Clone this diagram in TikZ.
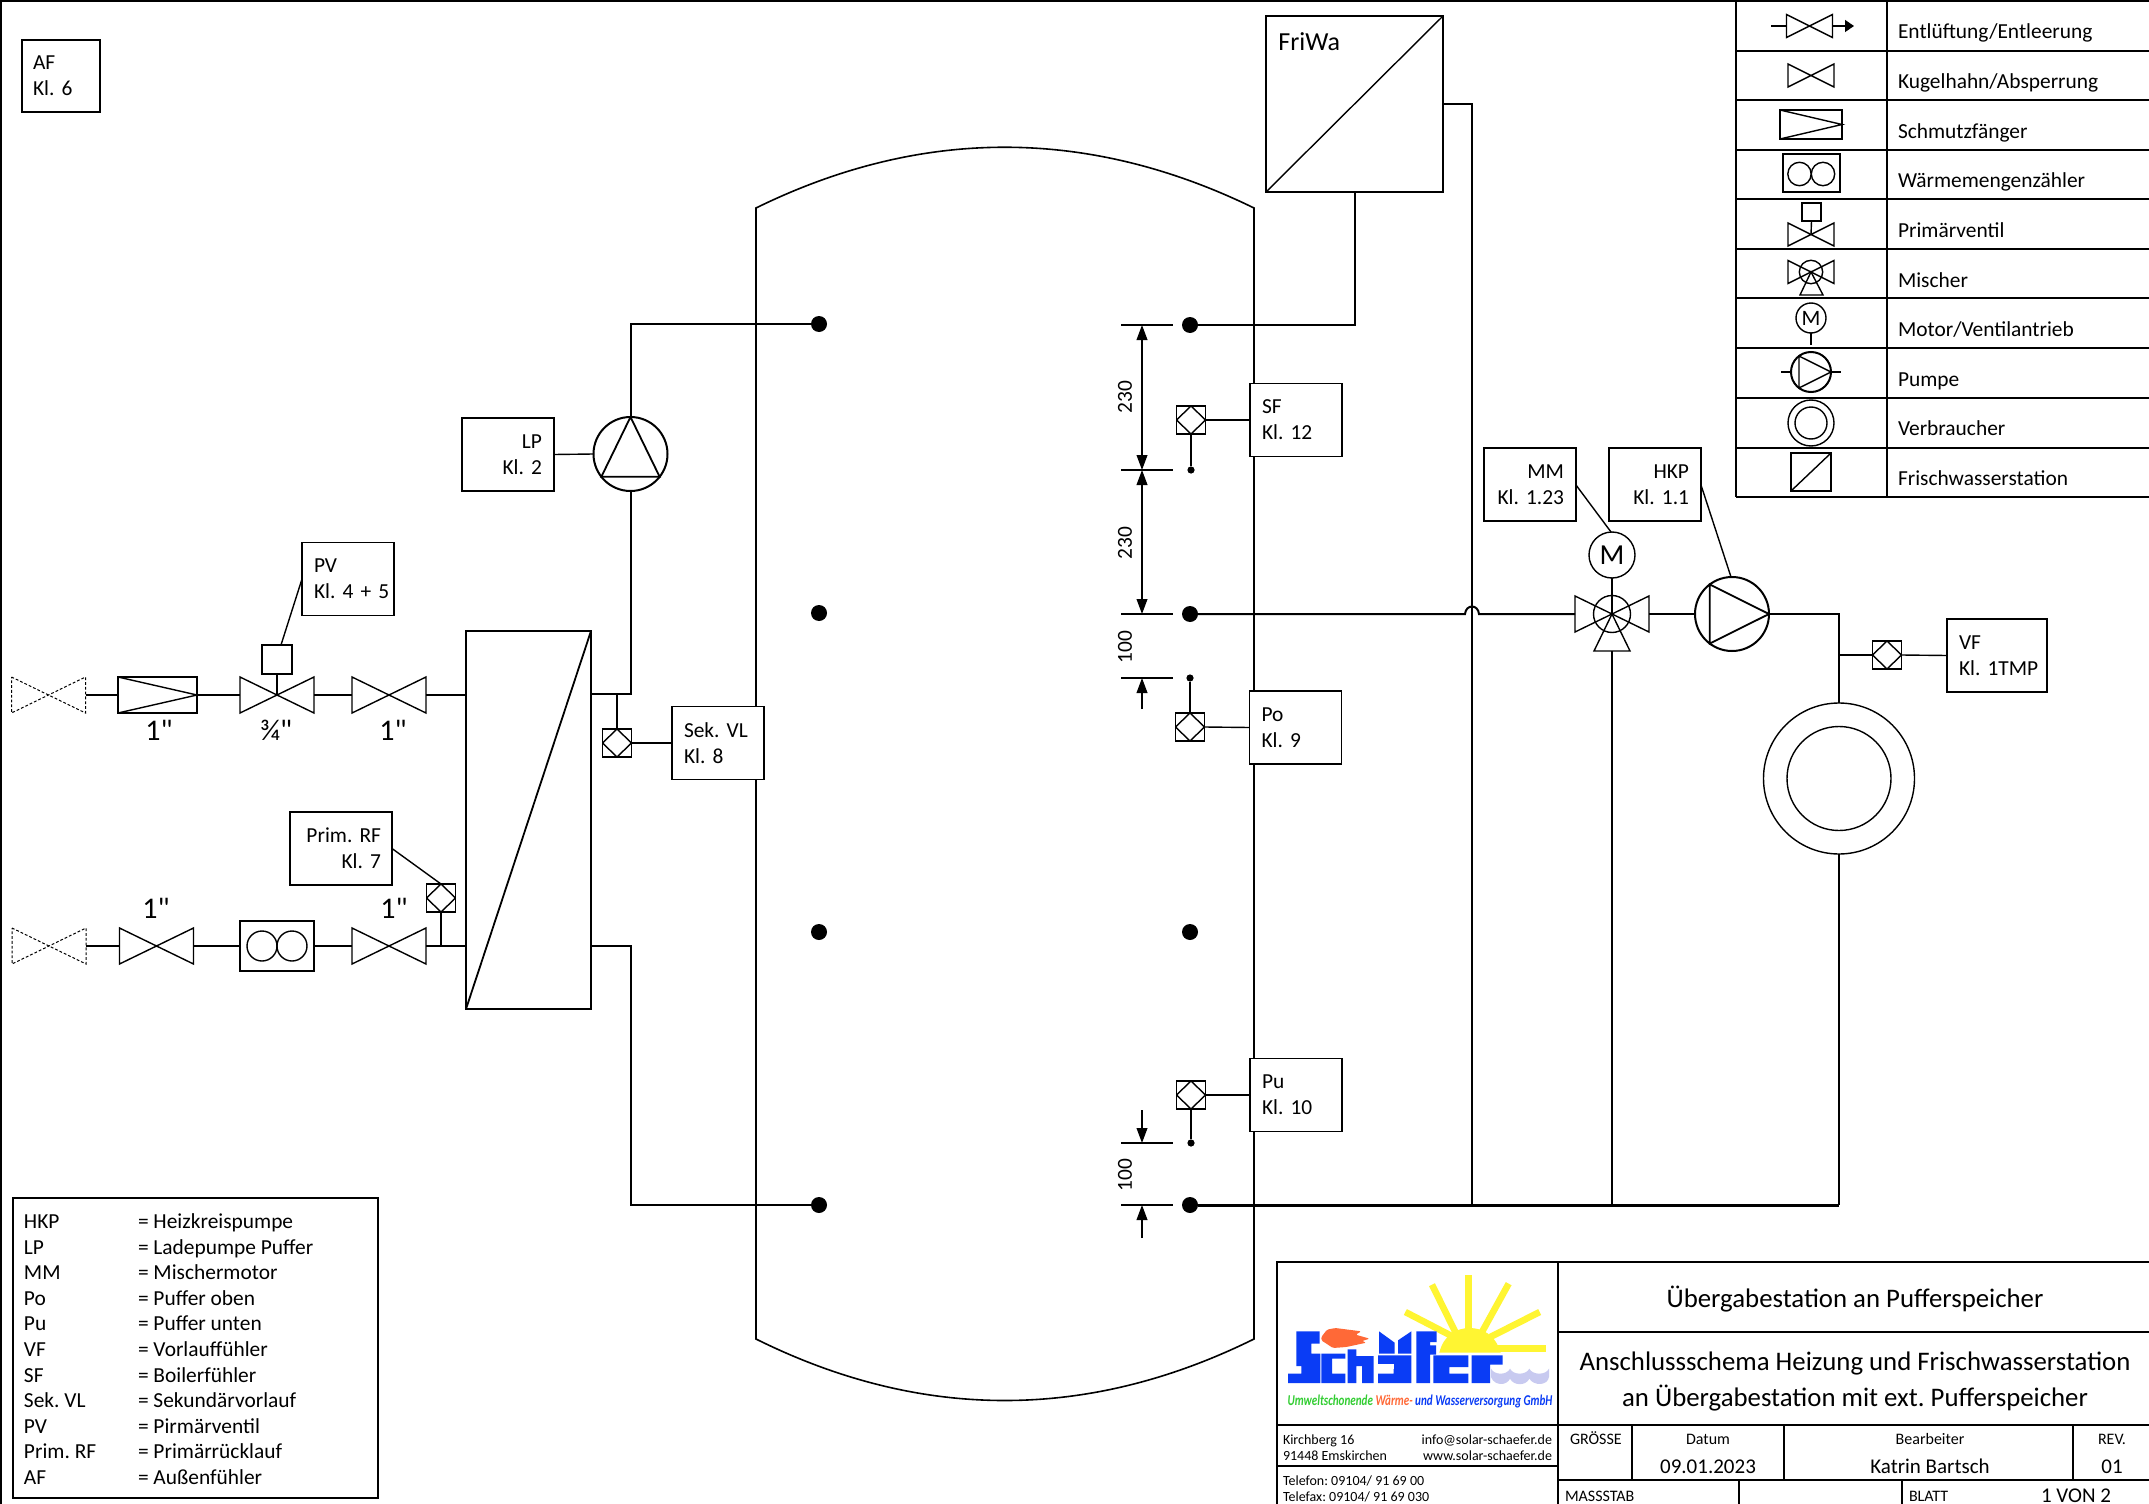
\documentclass[tikz,border=0pt]{standalone}
\usepackage{fontspec}
\setmainfont{Carlito}[Ligatures=TeXOff]
\usetikzlibrary{arrows.meta,calc}
\definecolor{sunyellow}{RGB}{255,245,50}
\definecolor{logoblue}{RGB}{10,60,245}
\definecolor{flameorange}{RGB}{255,105,55}
\definecolor{wavelav}{RGB}{200,202,240}
\definecolor{taggreen}{RGB}{50,205,50}
\tikzset{
  thinln/.style={line width=0.7pt},
  pipe/.style={line width=1pt},
  heavy/.style={line width=1.5pt},
  sym/.style={line width=0.7pt},
  lbl/.style={draw,fill=white,thinln,inner sep=0pt,outer sep=0pt,minimum width=46pt,minimum height=36.5pt,text width=34pt,align=left,font=\fontsize{10.7}{13}\selectfont},
  lblr/.style={lbl,align=right},
  sensor/.style={draw,fill=white,thinln,inner sep=0pt,outer sep=0pt,minimum width=14.5pt,minimum height=14pt,
    path picture={\draw[thinln] (path picture bounding box.west)--(path picture bounding box.north)--(path picture bounding box.east)--(path picture bounding box.south)--cycle;}},
  vbox/.style={inner sep=0pt,outer sep=0pt,minimum width=37pt,minimum height=18pt},
  vsmall/.style={minimum width=23pt,minimum height=11.5pt},
  dottedv/.style={line width=0.5pt,dash pattern=on 1.4pt off 1pt},
  bigdot/.style={circle,fill=black,inner sep=0pt,outer sep=0pt,minimum size=8pt},
  smalldot/.style={circle,fill=black,inner sep=0pt,outer sep=0pt,minimum size=3.6pt},
  rnd/.style={circle,draw,inner sep=0pt,outer sep=0pt},
  rect/.style={rectangle,draw,inner sep=0pt,outer sep=0pt},
  txt/.style={inner sep=0pt,outer sep=0pt,font=\fontsize{10.7}{13}\selectfont},
  txtb/.style={txt,anchor=base west},
  bigtxt/.style={inner sep=0pt,outer sep=0pt,anchor=base,font=\fontsize{15}{17}\selectfont},
  dimarr/.style={thinln,{Triangle[length=7.5pt,width=5.4pt]}-{Triangle[length=7.5pt,width=5.4pt]}},
  dimone/.style={thinln,-{Triangle[length=7.5pt,width=5.4pt]}},
  tb/.style={inner sep=0pt,outer sep=0pt,anchor=base,font=\fontsize{13.4}{15}\selectfont},
  tbs/.style={inner sep=0pt,outer sep=0pt,font=\fontsize{7}{8}\selectfont},
  tbm/.style={inner sep=0pt,outer sep=0pt,font=\fontsize{8}{9}\selectfont},
  tbn/.style={inner sep=0pt,outer sep=0pt,anchor=base,font=\fontsize{10.5}{12}\selectfont},
}
\newcommand\myvalve[4][]{%
  \node[vbox,#1] (#2) at (#3,#4) {};
  \draw[sym,#1] (#2.north west)--(#2.south east)--(#2.north east)--(#2.south west)--cycle;
}
\begin{document}
\frenchspacing
\begin{tikzpicture}[x=0.5pt,y=-0.5pt]
\useasboundingbox (0,0) rectangle (2149,1504);
\fill[white] (0,0) rectangle (2149,1504);
% sheet edge
\coordinate (sheetTL) at (1,1);
\coordinate (sheetTR) at (2149,1);
\coordinate (sheetBL) at (1,1504);
\draw[line width=1.3pt] (sheetBL)--(sheetTL)--(sheetTR);

% tank
\coordinate (tl) at (756,208); \coordinate (tr) at (1254,208);
\coordinate (bl) at (756,1339); \coordinate (br) at (1254,1339);
\draw[thinln,line width=0.8pt] (tl) .. controls (921,127) and (1088,127) .. (tr) -- (br)
   .. controls (1088,1421) and (921,1421) .. (bl) -- cycle;

% AF
\node[lbl,minimum width=39pt,minimum height=36pt,text width=28pt] (af) at (61,76) {AF\\Kl. 6};

% tank connections
\node[bigdot] (dl1) at (819,324) {};
\node[bigdot] (dl2) at (819,613) {};
\node[bigdot] (dl3) at (819,932) {};
\node[bigdot] (dl4) at (819,1205) {};
\node[bigdot] (dr1) at (1190,325) {};
\node[bigdot] (dr2) at (1190,614) {};
\node[bigdot] (dr3) at (1190,932) {};
\node[bigdot] (dr4) at (1190,1205) {};

% FriWa
\node[rect,thinln,fill=white,minimum width=88.5pt,minimum height=88pt] (fw) at (1354.5,104) {};
\draw[thinln] (fw.south west)--(fw.north east);
\node[inner sep=0pt,anchor=base west,font=\fontsize{13}{15}\selectfont] (fwt) at (1278,51) {FriWa};
\coordinate (fwp) at (fw.east);
\coordinate (ret) at (1472,1205);
\coordinate (hump1) at (1465,614);
\coordinate (hump2) at (1479,614);
\draw[pipe] (fwp) -| (ret);
\draw[pipe] (fw.south) |- (dr1);

% heat exchanger
\node[rect,thinln,minimum width=62.5pt,minimum height=189pt] (hx) at (528.5,820) {};
\draw[thinln,line width=0.9pt] (hx.south west)--(hx.north east);
\coordinate (hxr1) at (591,694);
\coordinate (hxr2) at (591,946);

% LP
\node[rnd,pipe,minimum size=37pt] (lp) at (630.5,454) {};
\draw[thinln,line width=0.9pt] (lp.90)--(lp.218)--(lp.322)--cycle;
\draw[pipe] (hxr1) -- (hxr1 -| lp.south) -- (lp.south);
\draw[pipe] (lp.north) |- (dl1);
\draw[pipe] (hxr2) -- (hxr2 -| lp.south) -- (lp.south |- dl4) -- (dl4);
\node[lblr] (lpb) at (508,454.5) {LP\\Kl. 2};
\draw[thinln] (lpb.east) -- (lp.west);

% primary top row
\myvalve[dottedv,vbox]{vd1}{48.5}{695}
\node[rect,sym,minimum width=39.5pt,minimum height=18pt] (filt) at (157.5,695) {};
\draw[sym] (filt.north west)--(filt.east)--(filt.south west);
\myvalve{vp}{277}{695}
\node[rect,sym,minimum width=15pt,minimum height=14.5pt] (vpa) at (277,659.5) {};
\draw[sym] (vpa.south)--(vp.center);
\myvalve{v2}{389}{695}
\draw[pipe] (vd1.east)--(filt.west);
\draw[pipe] (filt.east)--(vp.west);
\draw[pipe] (vp.east)--(v2.west);
\draw[pipe] (v2.east)--(hx.west |- v2.east);
\node[lbl] (pvb) at (348,579) {PV\\\mbox{Kl. 4 + 5}};
\coordinate (vpaTop) at (281,645);
\draw[thinln] (pvb.west)--(vpaTop);
\node[bigtxt] (d1) at (159,740) {1"};
\node[bigtxt] (d2) at (276,740) {¾"};
\node[bigtxt] (d3) at (393,740) {1"};

% primary bottom row
\myvalve[dottedv,vbox]{vd2}{49}{946}
\myvalve{v3}{156.5}{946}
\node[rect,sym,minimum width=37pt,minimum height=25pt] (wm) at (277,946) {};
\node[rnd,sym,minimum size=15pt] (wm1) at (262,946) {};
\node[rnd,sym,minimum size=15pt] (wm2) at (292,946) {};
\myvalve{v4}{389}{946}
\draw[pipe] (vd2.east)--(v3.west);
\draw[pipe] (v3.east)--(wm.west);
\draw[pipe] (wm.east)--(v4.west);
\draw[pipe] (v4.east)--(hx.west |- v4.east);
\node[sensor] (srf) at (441,898) {};
\coordinate (srfT) at (441,946);
\draw[thinln] (srf.south)--(srfT);
\node[lblr,minimum width=51pt,text width=40pt] (rfb) at (341,848.5) {\mbox{Prim. RF}\\Kl. 7};
\draw[thinln] (rfb.east)--(srf.north);
\node[bigtxt] (d4) at (156,918) {1"};
\node[bigtxt] (d5) at (394,918) {1"};

% Sek VL
\node[sensor] (svl) at (617,743) {};
\coordinate (svlT) at (617,694);
\draw[thinln] (svlT)--(svl.north);
\node[lbl] (svb) at (718,743) {\mbox{Sek. VL}\\Kl. 8};
\draw[thinln] (svl.east)--(svb.west);

% dimensions
\coordinate (e1a) at (1121,325); \coordinate (e1b) at (1173,325);
\coordinate (e2a) at (1121,470); \coordinate (e2b) at (1173,470);
\coordinate (e3a) at (1121,614); \coordinate (e3b) at (1173,614);
\coordinate (e4a) at (1121,678); \coordinate (e4b) at (1173,678);
\coordinate (e5a) at (1121,1143); \coordinate (e5b) at (1173,1143);
\coordinate (e6a) at (1121,1205); \coordinate (e6b) at (1173,1205);
\foreach \n in {1,...,6} {\draw[thinln] (e\n a)--(e\n b);}
\coordinate (a1) at (1142,325); \coordinate (a2) at (1142,470); \coordinate (a3) at (1142,614);
\coordinate (a4) at (1142,678); \coordinate (a4e) at (1142,709);
\coordinate (a5) at (1142,1143); \coordinate (a5e) at (1142,1110);
\coordinate (a6) at (1142,1205); \coordinate (a6e) at (1142,1238);
\draw[dimarr] (a1)--(a2);
\draw[dimarr] (a2)--(a3);
\draw[dimone] (a4e)--(a4);
\draw[dimone] (a5e)--(a5);
\draw[dimone] (a6e)--(a6);
\node[txt,rotate=90] (t230a) at (1125,397) {230};
\node[txt,rotate=90] (t230b) at (1125,543) {230};
\node[txt,rotate=90] (t100a) at (1125,647) {100};
\node[txt,rotate=90] (t100b) at (1125,1175) {100};

% tank sensors
\node[smalldot] (ds1) at (1191,470) {};
\node[sensor] (ssf) at (1191,420) {};
\draw[thinln] (ds1)--(ssf.south);
\node[lbl] (sfb) at (1296,420) {SF\\Kl. 12};
\draw[thinln] (ssf.east)--(sfb.west);
\node[smalldot] (ds2) at (1190,678) {};
\node[sensor] (spo) at (1190,727) {};
\draw[thinln] (ds2)--(spo.north);
\node[lbl] (pob) at (1295.5,727.5) {Po\\Kl. 9};
\draw[thinln] (spo.east)--(pob.west);
\node[smalldot] (ds3) at (1191,1143) {};
\node[sensor] (spu) at (1191,1095) {};
\draw[thinln] (ds3)--(spu.south);
\node[lbl] (pub) at (1296,1095) {Pu\\Kl. 10};
\draw[thinln] (spu.east)--(pub.west);

% mixer, motor, pump
\myvalve{mx}{1612}{614}
\node[rnd,sym,minimum size=18.5pt] (mxc) at (mx.center) {};
\coordinate (mxtl) at ([shift={(-18,37)}]mx.center);
\coordinate (mxtr) at ([shift={(18,37)}]mx.center);
\coordinate (mxb) at ([shift={(0,37)}]mx.center);
\draw[sym] (mx.center)--(mxtl)--(mxtr)--cycle;
\node[rnd,sym,minimum size=23pt,font=\fontsize{14.5}{16}\selectfont] (mot) at (1612,555) {M};
\draw[thinln] (mot.south)--(mx.center);
\node[rnd,pipe,minimum size=37pt] (pk) at (1732,614) {};
\draw[thinln,line width=0.9pt] (pk.0)--(pk.127)--(pk.233)--cycle;
\draw[pipe] (dr2) -- (hump1) .. controls (1466,604) and (1478,604) .. (hump2) -- (mx.west);
\draw[pipe] (mx.east)--(pk.west);
\coordinate (retm) at (1612,1205);
\draw[pipe] (mxb)--(retm);
\node[lblr] (mmb) at (1530,484.5) {MM\\\mbox{Kl. 1.23}};
\node[lblr] (hkb) at (1655,484.5) {HKP\\\mbox{Kl. 1.1}};
\coordinate (mmT) at (1611,532);
\coordinate (hkT) at (1731,577);
\coordinate (mmS) at (1576,485);
\coordinate (hkS) at (1701,485);
\draw[thinln] (mmS)--(mmT);
\draw[thinln] (hkS)--(hkT);

% consumer
\node[rnd,sym,minimum size=75.5pt] (vb) at (1839,778.5) {};
\node[rnd,sym,minimum size=52pt] (vbi) at (1839,778.5) {};
\draw[pipe] (pk.east) -| (vb.north);
\coordinate (retr) at (1839,1205);
\draw[pipe] (vb.south)--(retr);
\draw[heavy] (dr4)--(retr);
\node[sensor] (svf) at (1887,655) {};
\coordinate (vfT) at (1839,655);
\draw[thinln] (vfT)--(svf.west);
\node[lbl,minimum width=50pt,text width=38pt] (vfb) at (1997,655.5) {VF\\\mbox{Kl. 1TMP}};
\draw[thinln] (svf.east)--(vfb.west);

% abbreviation box
\node[rect,thinln,minimum width=182.5pt,minimum height=150pt] (abbr) at (195.5,1348) {};
\foreach \a/\b [count=\i] in {HKP/Heizkreispumpe,LP/Ladepumpe Puffer,MM/Mischermotor,Po/Puffer oben,Pu/Puffer unten,VF/Vorlauffühler,SF/Boilerfühler,Sek. VL/Sekundärvorlauf,PV/Pirmärventil,Prim. RF/Primärrücklauf,AF/Außenfühler} {
  \node[txtb] (aa\i) at (24,{1228.5+25.6*(\i-1)}) {\a};
  \node[txtb] (ab\i) at (138,{1228.5+25.6*(\i-1)}) {= \b};
}

% symbol legend
\coordinate (lgTL) at (1736,1); \coordinate (lgTR) at (2149,1);
\coordinate (lgBL) at (1736,497); \coordinate (lgBR) at (2149,497);
\coordinate (lgM) at (1887,1); \coordinate (lgMb) at (1887,497);
\draw[thinln] (lgTL)--(lgBL);
\draw[thinln] (lgM)--(lgMb);
\draw[line width=1.3pt] (lgBL)--(lgBR);
\draw[line width=1.3pt] (lgTL)--(lgTR);
\foreach \r in {51,100,150,199,249,298,348,398,448} {\draw[thinln] (1736,\r)--(2149,\r);}
\foreach \t [count=\i] in {Entlüftung/Entleerung,Kugelhahn/Absperrung,Schmutzfänger,Wärmemengenzähler,Primärventil,Mischer,Motor/Ventilantrieb,Pumpe,Verbraucher,Frischwasserstation} {
  \node[txtb] (lg\i) at (1898,{39+49.6*(\i-1)}) {\t};
}
% row 1
\myvalve[vsmall]{s1}{1809.5}{26}
\coordinate (s1a) at (1771,26); \coordinate (s1b) at (1854,26);
\draw[thinln] (s1a)--(s1.west);
\draw[thinln,-{Triangle[length=4.5pt,width=6pt]}] (s1.east)--(s1b);
% row 2
\myvalve[vsmall]{s2}{1811}{75.5}
% row 3
\node[rect,sym,minimum width=31pt,minimum height=14.5pt] (s3) at (1811,124.5) {};
\draw[sym] (s3.north west)--(s3.east)--(s3.south west);
% row 4
\node[rect,sym,minimum width=28.5pt,minimum height=19pt] (s4) at (1811.5,173) {};
\node[rnd,sym,minimum size=11.7pt] (s4a) at (1799.5,174) {};
\node[rnd,sym,minimum size=11.7pt] (s4b) at (1823,174) {};
% row 5
\myvalve[vsmall]{s5}{1811}{234.5}
\node[rect,sym,minimum width=9.5pt,minimum height=9pt] (s5a) at (1811.5,212) {};
\draw[sym] (s5a.south)--(s5.center);
% row 6
\myvalve[vsmall]{s6}{1811}{272}
\node[rnd,sym,minimum size=11.7pt] (s6c) at (s6.center) {};
\coordinate (s6l) at (1800,295); \coordinate (s6r) at (1823,295);
\draw[sym] (s6.center)--(s6l)--(s6r)--cycle;
% row 7
\node[rnd,sym,minimum size=15pt,font=\fontsize{11}{12}\selectfont] (s7) at (1811,318) {M};
\coordinate (s7b) at (1811,345);
\draw[sym] (s7.south)--(s7b);
% row 8
\node[rnd,pipe,minimum size=20pt] (s8) at (1811,372) {};
\coordinate (s8l) at (1781,372); \coordinate (s8r) at (1841,372);
\draw[sym] (s8l)--(s8.west); \draw[sym] (s8.east)--(s8r);
\draw[sym] (s8.0)--(s8.127)--(s8.233)--cycle;
% row 9
\node[rnd,sym,minimum size=23pt] (s9) at (1811,423) {};
\node[rnd,sym,minimum size=16pt] (s9i) at (1811,423) {};
% row 10
\node[rect,sym,minimum width=20pt,minimum height=19pt] (s10) at (1811,472) {};
\draw[sym] (s10.south west)--(s10.north east);

% title block
\coordinate (tbTL) at (1277,1262); \coordinate (tbTR) at (2149,1262);
\coordinate (tbBL) at (1277,1504); \coordinate (tbV) at (1558,1262); \coordinate (tbVb) at (1558,1504);
\draw[pipe] (tbBL)--(tbTL)--(tbTR);
\draw[pipe] (tbV)--(tbVb);
\draw[pipe] (1558,1332)--(2149,1332);
\draw[pipe] (1277,1425)--(2149,1425);
\draw[pipe] (1277,1466)--(1558,1466);
\draw[thinln] (1558,1480)--(2149,1480);
\draw[thinln] (1632,1425)--(1632,1480);
\draw[thinln] (1784,1425)--(1784,1480);
\draw[thinln] (2073,1425)--(2073,1480);
\draw[thinln] (1739,1480)--(1739,1504);
\draw[thinln] (1902,1480)--(1902,1504);

\node[tb] (tt1) at (1855,1307) {Übergabestation an Pufferspeicher};
\node[tb] (tt2) at (1855,1370) {Anschlussschema Heizung und Frischwasserstation};
\node[tb] (tt3) at (1855,1406) {an Übergabestation mit ext. Pufferspeicher};
\node[tbs,anchor=base west] (k1) at (1283,1444) {Kirchberg 16};
\node[tbs,anchor=base west] (k2) at (1283,1460) {91448 Emskirchen};
\node[tbs,anchor=base east] (k3) at (1552,1444) {info@solar-schaefer.de};
\node[tbs,anchor=base east] (k4) at (1552,1460) {www.solar-schaefer.de};
\node[tbs,anchor=base west] (k5) at (1283,1485) {Telefon: 09104/ 91 69 00};
\node[tbs,anchor=base west] (k6) at (1283,1501) {Telefax: 09104/ 91 69 030};
\node[tbm,anchor=base west] (g1) at (1570,1444) {GRÖSSE};
\node[tbm,anchor=base] (g2) at (1708,1444) {Datum};
\node[tbm,anchor=base] (g3) at (1930,1444) {Bearbeiter};
\node[tbm,anchor=base] (g4) at (2112,1444) {REV.};
\node[tbn] (g5) at (1708,1473) {09.01.2023};
\node[tbn] (g6) at (1930,1473) {Katrin Bartsch};
\node[tbn] (g7) at (2112,1473) {01};
\node[tbm,anchor=base west] (g8) at (1565,1501) {MASSSTAB};
\node[tbm,anchor=base west] (g9) at (1909,1501) {BLATT};
\node[tbn] (g10) at (2076,1502) {1 VON 2};

% logo
\begin{scope}[shift={(1277,1262)},xscale=1/3,yscale=1/3]
  \draw[sunyellow,line width=3.3pt] (574,40)--(574,210);
  \draw[sunyellow,line width=3.3pt] (465,68)--(535,210);
  \draw[sunyellow,line width=3.3pt] (695,65)--(615,210);
  \draw[sunyellow,line width=3.3pt] (385,150)--(530,225);
  \draw[sunyellow,line width=3.3pt] (788,150)--(640,225);
  \draw[sunyellow,line width=3.3pt] (620,260)--(807,260);
  \fill[sunyellow] (487,272) .. controls (500,218) and (540,198) .. (578,198) .. controls (616,198) and (655,218) .. (671,272) -- cycle;
  \fill[wavelav] (642,320) .. controls (652,340) and (690,340) .. (699,320) .. controls (709,340) and (747,340) .. (757,320) .. controls (767,340) and (806,340) .. (816,320) -- (816,345) .. controls (812,372) and (770,372) .. (757,350) .. controls (747,372) and (710,372) .. (699,350) .. controls (689,372) and (652,372) .. (642,345) -- cycle;
  \fill[logoblue] (58,208)--(128,208)--(128,245)--(103,245)--(103,275)--(130,275)--(130,363)--(33,363)--(33,335)--(73,335)--(73,312)--(58,312)--cycle;
  \fill[logoblue] (133,275)--(205,275)--(205,290)--(165,290)--(165,335)--(205,335)--(205,363)--(133,363)--cycle;
  \fill[logoblue] (212,262)--(238,262)--(238,282)--(290,282)--(290,363)--(255,363)--(255,312)--(238,312)--(238,363)--(212,363)--cycle;
  \fill[flameorange,rounded corners=0.7pt] (133,225) -- (150,203) -- (175,198) -- (253,208) -- (236,218) -- (278,230) -- (255,237) -- (268,242) -- (208,255) -- (168,258) -- (133,235) -- cycle;
  \fill[logoblue] (303,280)--(403,280)--(403,363)--(303,363)--(303,335)--(350,335)--(350,320)--(303,320)--(303,305)--cycle;
  \fill[white] (303,305) rectangle (350,320);
  \fill[logoblue] (306,208)--(353,242)--(353,275)--(306,275)--cycle;
  \fill[logoblue] (403,208)--(363,235)--(363,275)--(403,275)--cycle;
  \fill[logoblue] (418,208)--(479,208)--(479,240)--(459,240)--(459,250)--(477,250)--(477,278)--(459,278)--(459,363)--(418,363)--cycle;
  \fill[logoblue] (469,280)--(574,280)--(574,315)--(517,315)--(517,335)--(574,335)--(574,363)--(469,363)--cycle;
  \fill[logoblue] (584,280)--(677,280)--(677,308)--(639,308)--(639,363)--(584,363)--cycle;
\end{scope}
\node[inner sep=0pt,anchor=base,font=\fontsize{7.5}{9}\bfseries\itshape\selectfont] (tag) at (1420,1405) {\scalebox{0.74}[1]{\textcolor{taggreen}{Umweltschonende} \textcolor{flameorange}{Wärme-} \textcolor{logoblue}{und Wasserversorgung GmbH}}};
\end{tikzpicture}
\end{document}
